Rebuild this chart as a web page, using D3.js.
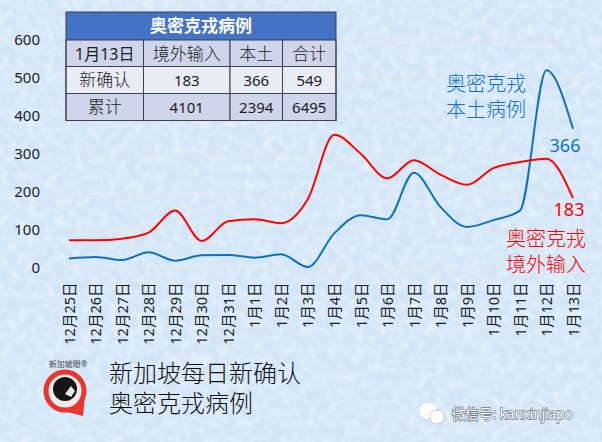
<!DOCTYPE html>
<html>
<head>
<meta charset="utf-8">
<script src="https://cdn.jsdelivr.net/npm/d3@7/dist/d3.min.js"></script>
<style>
html, body { margin: 0; padding: 0; background: #d6e7f7; }
svg { display: block; }
text { font-family: "Noto Sans", "Noto Sans CJK SC", sans-serif; }
</style>
</head>
<body>
<svg id="chart" width="602" height="442"></svg>
<script>
// Chart values
const DATES = ['12月25日', '12月26日', '12月27日', '12月28日', '12月29日', '12月30日', '12月31日',
    '1月1日', '1月2日', '1月3日', '1月4日', '1月5日', '1月6日', '1月7日', '1月8日', '1月9日',
    '1月10日', '1月11日', '1月12日', '1月13日'];
const IMPORTED = [72, 72, 76, 92, 150, 70, 122, 127, 117, 180, 350, 300, 235, 283, 245, 218, 262, 278, 287, 183];
const LOCAL = [24, 28, 20, 40, 18, 32, 33, 26, 35, 1, 90, 138, 127, 250, 160, 107, 125, 150, 520, 366];
const Y_TICKS = [0, 100, 200, 300, 400, 500, 600];

const TABLE_TITLE = '奥密克戎病例';
const TABLE_ROWS = [
    ['1月13日', '境外输入', '本土', '合计'],
    ['新确认', '183', '366', '549'],
    ['累计', '4101', '2394', '6495']
];

const BLUE = '#0f72bd';
const RED = '#ff0000';
const INK = '#1c1c1c';

const svg = d3.select('#chart');

// Paper texture behind everything
const defs = svg.append('defs');
const paper = defs.append('filter').attr('id', 'paper')
    .attr('x', 0).attr('y', 0).attr('width', '100%').attr('height', '100%');
paper.append('feTurbulence')
    .attr('type', 'fractalNoise').attr('baseFrequency', 0.11).attr('numOctaves', 4).attr('seed', 7);
paper.append('feColorMatrix').attr('type', 'matrix')
    .attr('values', '0 0 0 0 1  0 0 0 0 1  0 0 0 0 1  1.6 0 0 0 -0.62');

svg.append('rect').attr('width', 602).attr('height', 442).attr('fill', '#d3e6f8');
svg.append('rect').attr('width', 602).attr('height', 442).attr('filter', 'url(#paper)').attr('opacity', 0.6);

// Scales
const x = d3.scalePoint().domain(DATES).range([69, 573]);
const y = d3.scaleLinear().domain([0, 600]).range([267.5, 40]);

// Y axis and gridlines
const yAxis = svg.append('g')
    .attr('transform', 'translate(56,0)')
    .call(d3.axisLeft(y).tickValues(Y_TICKS).tickSize(0).tickPadding(16));
yAxis.select('.domain').remove();
yAxis.selectAll('text')
    .style('font-size', '15px')
    .style('fill', INK);
yAxis.selectAll('line')
    .attr('x1', 0).attr('x2', 530)
    .attr('stroke', '#e6e2e0').attr('stroke-opacity', 0.8);

// X axis, rotated date labels
const xAxis = svg.append('g')
    .attr('transform', 'translate(0,267.5)')
    .call(d3.axisBottom(x).tickSize(0));
xAxis.select('.domain').remove();
xAxis.selectAll('text')
    .attr('transform', 'rotate(-90)')
    .attr('x', -15).attr('y', 0).attr('dy', '0.36em')
    .style('text-anchor', 'end')
    .style('font-size', '14.5px')
    .style('fill', INK);

// Lines
const line = d3.line()
    .x((d, i) => x(DATES[i]))
    .y(d => y(d))
    .curve(d3.curveMonotoneX);

svg.append('path').datum(LOCAL).attr('d', line)
    .attr('fill', 'none').attr('stroke', BLUE).attr('stroke-width', 2);
svg.append('path').datum(IMPORTED).attr('d', line)
    .attr('fill', 'none').attr('stroke', RED).attr('stroke-width', 2);

// Series annotations
function addLabel(lines, xPos, yPos, size, color, gap, weight) {
    lines.forEach((txt, i) => {
        svg.append('text')
            .attr('x', xPos).attr('y', yPos + i * gap)
            .attr('text-anchor', 'middle')
            .style('font-size', size + 'px')
            .style('font-weight', weight)
            .style('fill', color)
            .text(txt);
    });
}
addLabel(['奥密克戎', '本土病例'], 486, 91, 20, BLUE, 26, 300);
addLabel(['奥密克戎', '境外输入'], 546, 246, 20, RED, 26, 300);
addLabel(['366'], 565, 152, 18, BLUE, 0, 400);
addLabel(['183'], 569, 216, 18, RED, 0, 400);

// Summary table
const colEdges = [66, 143.5, 230, 282.5, 336];
const rowEdges = [40, 66.5, 93.5, 120.5];
const table = svg.append('g');

table.append('rect')
    .attr('x', 66).attr('y', 12).attr('width', 270).attr('height', 28)
    .attr('fill', '#4472c4');
table.append('text')
    .attr('x', 201).attr('y', 32)
    .attr('text-anchor', 'middle')
    .style('font-size', '17px').style('font-weight', 700).style('fill', '#ffffff')
    .text(TABLE_TITLE);

function cellSize(cell) {
    if (/^\d+$/.test(cell)) return 15;
    return /\d/.test(cell) ? 16 : 17;
}

TABLE_ROWS.forEach((row, r) => {
    row.forEach((cell, c) => {
        table.append('rect')
            .attr('x', colEdges[c]).attr('y', rowEdges[r])
            .attr('width', colEdges[c + 1] - colEdges[c])
            .attr('height', rowEdges[r + 1] - rowEdges[r])
            .attr('fill', r === 1 ? '#e9ebf5' : '#cfd5ea')
            .attr('stroke', '#3c3f4a').attr('stroke-width', 1);
        table.append('text')
            .attr('x', (colEdges[c] + colEdges[c + 1]) / 2)
            .attr('y', rowEdges[r] + 19.5)
            .attr('text-anchor', 'middle')
            .style('font-size', cellSize(cell) + 'px')
            .style('font-weight', /\d/.test(cell) ? 400 : 300)
            .style('fill', INK)
            .text(cell);
    });
});
table.append('rect')
    .attr('x', 66).attr('y', 12).attr('width', 270).attr('height', 108.5)
    .attr('fill', 'none').attr('stroke', '#3c3f4a').attr('stroke-width', 1);

// Footer title
svg.append('text').attr('x', 109).attr('y', 382)
    .style('font-size', '24px').style('font-weight', 300).style('fill', '#111')
    .text('新加坡每日新确认');
svg.append('text').attr('x', 109).attr('y', 412)
    .style('font-size', '24px').style('font-weight', 300).style('fill', '#111')
    .text('奥密克戎病例');

// Logo
const logo = svg.append('g');
logo.append('path')
    .attr('d', 'M60 410 L83 416 L85 396 Z')
    .attr('fill', '#e8352e');
logo.append('circle').attr('cx', 65).attr('cy', 391).attr('r', 19)
    .attr('fill', '#ececec').attr('stroke', '#e8352e').attr('stroke-width', 5);
logo.append('circle').attr('cx', 65).attr('cy', 389).attr('r', 12).attr('fill', '#151515');
logo.append('path')
    .attr('d', 'M65 394 L71 386 L75 391 L71 397 Z')
    .attr('fill', '#e8e8e8');
logo.append('text').attr('x', 68).attr('y', 367)
    .attr('text-anchor', 'middle')
    .style('font-size', '8px').style('fill', '#444')
    .text('新加坡眼®');

// Watermark
const wm = svg.append('g').attr('fill', '#ffffff');
wm.append('ellipse').attr('cx', 428).attr('cy', 411).attr('rx', 8.5).attr('ry', 8);
wm.append('ellipse').attr('cx', 437).attr('cy', 417).attr('rx', 7.5).attr('ry', 7)
    .attr('stroke', '#8b98a8').attr('stroke-width', 0.5);
svg.append('text').attr('x', 452).attr('y', 419)
    .style('font-size', '13.5px').style('fill', '#ffffff')
    .style('paint-order', 'stroke').style('stroke', '#6f7c8c').style('stroke-width', 1.4)
    .text('微信号: kanxinjiapo');
</script>
</body>
</html>
